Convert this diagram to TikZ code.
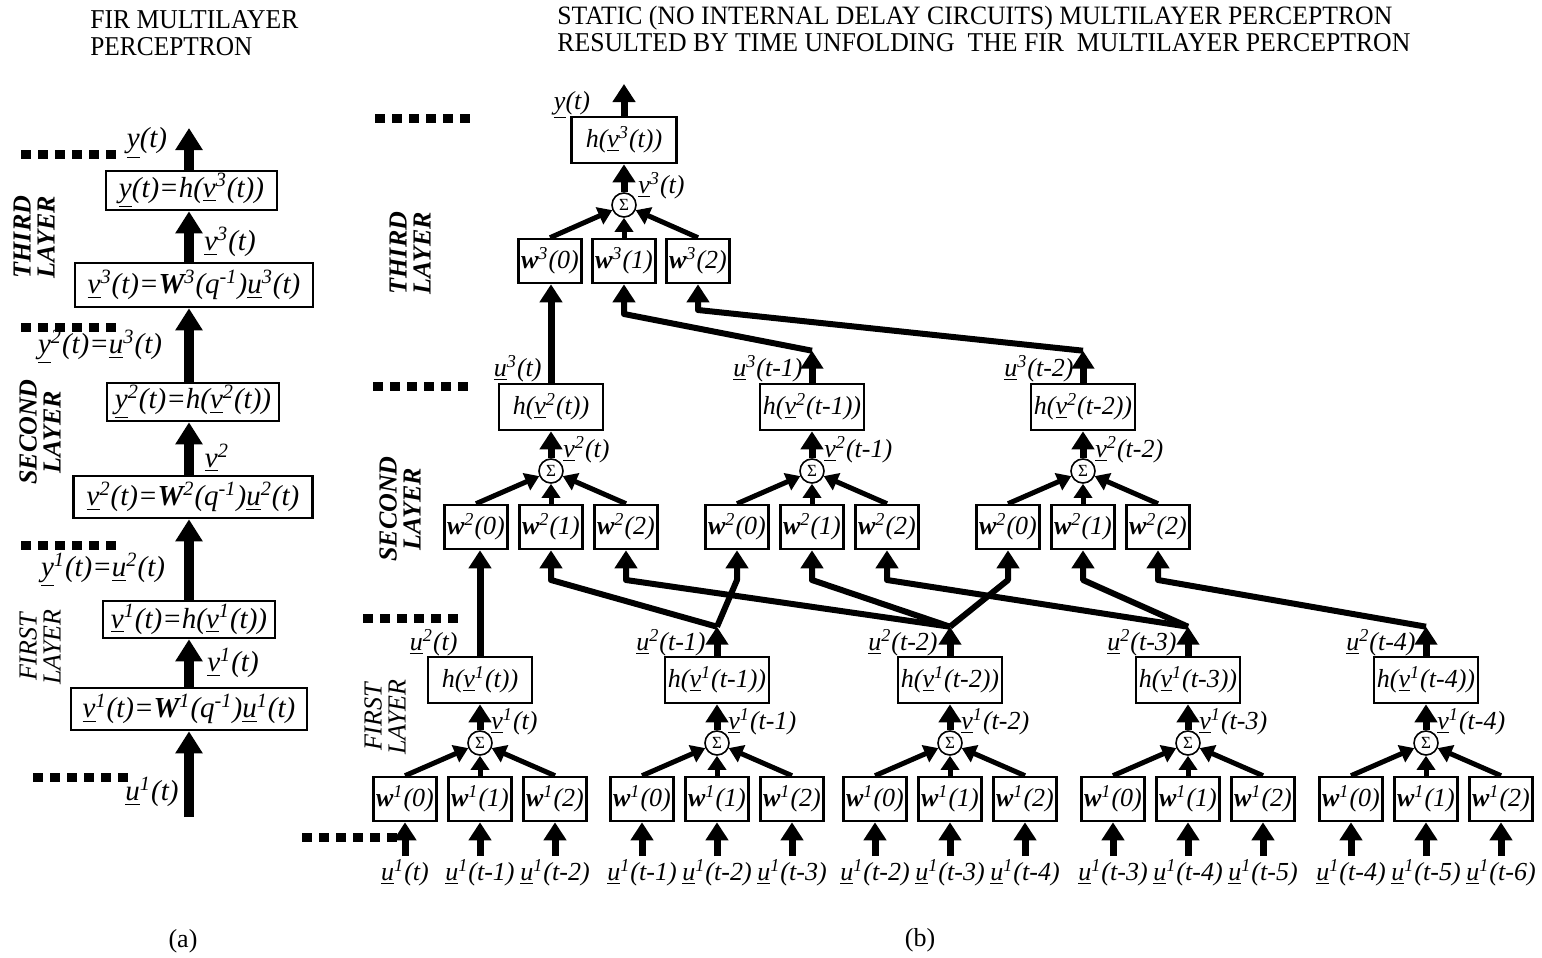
\documentclass[tikz,border=0pt]{standalone}
\usepackage{fontspec}
\setmainfont{Liberation Serif}
\usepackage{graphicx}
\usetikzlibrary{arrows.meta}
\newcommand\rfont{\itshape\fontsize{13}{14}\selectfont}
\newcommand\lfont{\itshape\fontsize{14.5}{16}\selectfont}
\newcommand\Uv[2]{\underline{#1}\textsuperscript{#2}}
\newcommand\Wv[2]{\textbf{#1}\textsuperscript{#2}}
\begin{document}
\begin{tikzpicture}[x=0.5pt,y=-0.5pt,
  every node/.style={inner sep=0pt},
  box/.style={draw,line width=1.3pt,font=\rfont},
  wbox/.style={box,minimum width=31.5pt,minimum height=22pt},
  hbox/.style={box,minimum width=52pt,minimum height=23pt},
  lbox/.style={draw,line width=1.3pt,font=\lfont},
  sumc/.style={circle,draw,line width=0.8pt,minimum size=12pt,font=\upshape\fontsize{8.5}{8.5}\selectfont},
  lab/.style={font=\rfont},
  llab/.style={font=\lfont},
  layerlab/.style={rotate=90,align=center,font=\bfseries\itshape\fontsize{13}{12}\selectfont},
  layerlabf/.style={rotate=90,align=center,font=\itshape\fontsize{13}{12}\selectfont},
  dots/.style={line width=4.5pt,dash pattern=on 5pt off 3.5pt},
  sarr/.style={line width=2.5pt,-{Triangle[width=9pt,length=7pt]}},
  arr/.style={line width=3.5pt,-{Triangle[width=11pt,length=9pt]}},
  lnk/.style={line width=3pt,line join=round,-{Triangle[width=11pt,length=9pt]}},
  big/.style={line width=5pt,-{Triangle[width=13pt,length=11pt]}},
  title/.style={font=\upshape\fontsize{13}{15}\selectfont},
]
\useasboundingbox (0,0) rectangle (1542,958);

% ---------- titles ----------
\node[title,anchor=base west] (ta1) at (90,28) {\resizebox{104pt}{9pt}{FIR MULTILAYER}};
\node[title,anchor=base west] (ta2) at (90,55) {\resizebox{81pt}{9pt}{PERCEPTRON}};
\node[title,anchor=base west] (tb1) at (557,25) {\resizebox{417.5pt}{9.2pt}{STATIC (NO INTERNAL DELAY CIRCUITS) MULTILAYER PERCEPTRON}};
\node[title,anchor=base west] (tb2) at (557,51) {\resizebox{426.5pt}{9pt}{RESULTED BY TIME UNFOLDING~ THE FIR~ MULTILAYER PERCEPTRON}};
\node[title] (capa) at (183,941) {(a)};
\node[title] (capb) at (920,940) {(b)};

% ---------- panel (a) ----------
\coordinate (sx) at (189,0);
\coordinate (ain) at (189,817);
\coordinate (aout) at (189,128);
\node[lbox,minimum width=118pt,minimum height=21pt] (A1) at (189,709) {\Uv{v}{1}(t)=\Wv{W}{1}(q\textsuperscript{-1})\Uv{u}{1}(t)};
\node[lbox,minimum width=86pt,minimum height=18.5pt] (A2) at (189,619.5) {\Uv{v}{1}(t)=h(\Uv{v}{1}(t))};
\node[lbox,minimum width=119.5pt,minimum height=21pt] (A3) at (193,497) {\Uv{v}{2}(t)=\Wv{W}{2}(q\textsuperscript{-1})\Uv{u}{2}(t)};
\node[lbox,minimum width=86pt,minimum height=19pt] (A4) at (193,402) {\Uv{y}{2}(t)=h(\Uv{v}{2}(t))};
\node[lbox,minimum width=119pt,minimum height=22pt] (A5) at (194,285) {\Uv{v}{3}(t)=\Wv{W}{3}(q\textsuperscript{-1})\Uv{u}{3}(t)};
\node[lbox,minimum width=85.5pt,minimum height=19.5pt] (A6) at (191.5,190.5) {\underline{y}(t)=h(\Uv{v}{3}(t))};

\draw[big] (ain) -- (A1.south -| sx);
\draw[big] (A1.north -| sx) -- (A2.south -| sx);
\draw[big] (A2.north -| sx) -- (A3.south -| sx);
\draw[big] (A3.north -| sx) -- (A4.south -| sx);
\draw[big] (A4.north -| sx) -- (A5.south -| sx);
\draw[big] (A5.north -| sx) -- (A6.south -| sx);
\draw[big] (A6.north -| sx) -- (aout);

\node[llab] (la1) at (147,143) {\underline{y}(t)};
\node[llab] (la2) at (230,242) {\Uv{v}{3}(t)};
\node[llab] (la3) at (100,347) {\Uv{y}{2}(t)=\Uv{u}{3}(t)};
\node[llab] (la4) at (217,458) {\Uv{v}{2}};
\node[llab] (la5) at (103,570) {\Uv{y}{1}(t)=\Uv{u}{2}(t)};
\node[llab] (la6) at (233,663) {\Uv{v}{1}(t)};
\node[llab] (la7) at (152,792) {\Uv{u}{1}(t)};

\node[layerlab] (lyA3) at (34,237) {THIRD\\LAYER};
\node[layerlab] (lyA2) at (40,432) {SECOND\\LAYER};
\node[layerlabf] (lyA1) at (40,647) {FIRST\\LAYER};

\draw[dots] (21,154) -- (116,154);
\draw[dots] (21,327) -- (116,327);
\draw[dots] (21,545) -- (116,545);
\draw[dots] (33,777) -- (128,777);

% ---------- panel (b) ----------
\draw[dots] (375,118) -- (470,118);
\draw[dots] (373,386) -- (468,386);
\draw[dots] (363,618) -- (458,618);
\draw[dots] (302,837) -- (397,837);

\node[layerlab] (lyB3) at (410,253) {THIRD\\LAYER};
\node[layerlab] (lyB2) at (400,509) {SECOND\\LAYER};
\node[layerlabf] (lyB1) at (385,717) {FIRST\\LAYER};

% third layer
\node[hbox,minimum width=52.5pt] (h3) at (624,140) {h(\Uv{v}{3}(t))};
\node[sumc] (s3) at (624,205) {Σ};
\node[wbox] (w3-0) at (550,261) {\Wv{w}{3}(0)};
\node[wbox] (w3-1) at (624,261) {\Wv{w}{3}(1)};
\node[wbox] (w3-2) at (698,261) {\Wv{w}{3}(2)};
\coordinate (yout) at (624,84);
\draw[arr] (h3.north) -- (yout);
\draw[arr] (s3) -- (h3.south);
\foreach \k in {0,1,2} \draw[sarr] (w3-\k.north) -- (s3);
\node[lab] (ly) at (572,105) {\underline{y}(t)};
\node[lab,anchor=west] (lv3) at (638,186) {\Uv{v}{3}(t)};

% second layer
\foreach \c/\g/\a in {551/1/t, 812/2/t-1, 1083/3/t-2} {
  \node[hbox] (h2-\g) at (\c,407) {h(\Uv{v}{2}(\a))};
  \node[sumc] (s2-\g) at (\c,471) {Σ};
  \node[wbox] (w2-\g-0) at (\c-75,527) {\Wv{w}{2}(0)};
  \node[wbox] (w2-\g-1) at (\c,527) {\Wv{w}{2}(1)};
  \node[wbox] (w2-\g-2) at (\c+75,527) {\Wv{w}{2}(2)};
  \draw[arr] (s2-\g) -- (h2-\g.south);
  \foreach \k in {0,1,2} \draw[sarr] (w2-\g-\k.north) -- (s2-\g);
  \node[lab,anchor=west] (lv2-\g) at (\c+12,450) {\Uv{v}{2}(\a)};
  \node[lab,anchor=east] (lu3-\g) at (\c-9,369) {\Uv{u}{3}(\a)};
  \path (h2-\g.north) ++(0,-32) coordinate (o2-\g);
}

% first layer
\foreach \c/\g/\a/\b/\d in {480/1/t/t-1/t-2, 717/2/t-1/t-2/t-3, 950/3/t-2/t-3/t-4, 1188/4/t-3/t-4/t-5, 1426/5/t-4/t-5/t-6} {
  \node[hbox] (h1-\g) at (\c,680) {h(\Uv{v}{1}(\a))};
  \node[sumc] (s1-\g) at (\c,743) {Σ};
  \node[wbox] (w1-\g-0) at (\c-75,799) {\Wv{w}{1}(0)};
  \node[wbox] (w1-\g-1) at (\c,799) {\Wv{w}{1}(1)};
  \node[wbox] (w1-\g-2) at (\c+75,799) {\Wv{w}{1}(2)};
  \coordinate (i1-\g-0) at (\c-75,856);
  \coordinate (i1-\g-1) at (\c,856);
  \coordinate (i1-\g-2) at (\c+75,856);
  \foreach \k in {0,1,2} {
    \draw[arr] (i1-\g-\k) -- (w1-\g-\k.south);
    \draw[sarr] (w1-\g-\k.north) -- (s1-\g);
  }
  \node[lab] (lu1-\g-0) at (\c-75,873) {\Uv{u}{1}(\a)};
  \node[lab] (lu1-\g-1) at (\c,873) {\Uv{u}{1}(\b)};
  \node[lab] (lu1-\g-2) at (\c+75,873) {\Uv{u}{1}(\d)};
  \draw[arr] (s1-\g) -- (h1-\g.south);
  \node[lab,anchor=west] (lv1-\g) at (\c+11,722) {\Uv{v}{1}(\a)};
  \path (h1-\g.north) ++(0,-29) coordinate (o1-\g);
}
\node[lab,anchor=east] (lu2-1) at (458,643) {\Uv{u}{2}(t)};
\node[lab,anchor=east] (lu2-2) at (706,643) {\Uv{u}{2}(t-1)};
\node[lab,anchor=east] (lu2-3) at (938,643) {\Uv{u}{2}(t-2)};
\node[lab,anchor=east] (lu2-4) at (1177,643) {\Uv{u}{2}(t-3)};
\node[lab,anchor=east] (lu2-5) at (1416,643) {\Uv{u}{2}(t-4)};

% layer 2 -> layer 3
\coordinate (b3) at (0,314);
\coordinate (b3b) at (0,310);
\draw[arr] (h2-1.north) -- (h2-1.north |- w3-0.south);
\draw[arr] (h2-2.north) -- (o2-2);
\draw[arr] (h2-3.north) -- (o2-3);
\draw[lnk] (o2-2) -- (w3-1.south |- b3) -- (w3-1.south);
\draw[lnk] (o2-3) -- (w3-2.south |- b3b) -- (w3-2.south);

% layer 1 -> layer 2
\coordinate (b2) at (0,580);
\draw[arr] (h1-1.north) -- (h1-1.north |- w2-1-0.south);
\foreach \g in {2,3,4,5} \draw[arr] (h1-\g.north) -- (o1-\g);
\draw[lnk] (o1-2) -- (w2-1-1.south |- b2) -- (w2-1-1.south);
\draw[lnk] (o1-2) -- (w2-2-0.south |- b2) -- (w2-2-0.south);
\draw[lnk] (o1-3) -- (w2-1-2.south |- b2) -- (w2-1-2.south);
\draw[lnk] (o1-3) -- (w2-2-1.south |- b2) -- (w2-2-1.south);
\draw[lnk] (o1-3) -- (w2-3-0.south |- b2) -- (w2-3-0.south);
\draw[lnk] (o1-4) -- (w2-2-2.south |- b2) -- (w2-2-2.south);
\draw[lnk] (o1-4) -- (w2-3-1.south |- b2) -- (w2-3-1.south);
\draw[lnk] (o1-5) -- (w2-3-2.south |- b2) -- (w2-3-2.south);
\end{tikzpicture}
\end{document}
